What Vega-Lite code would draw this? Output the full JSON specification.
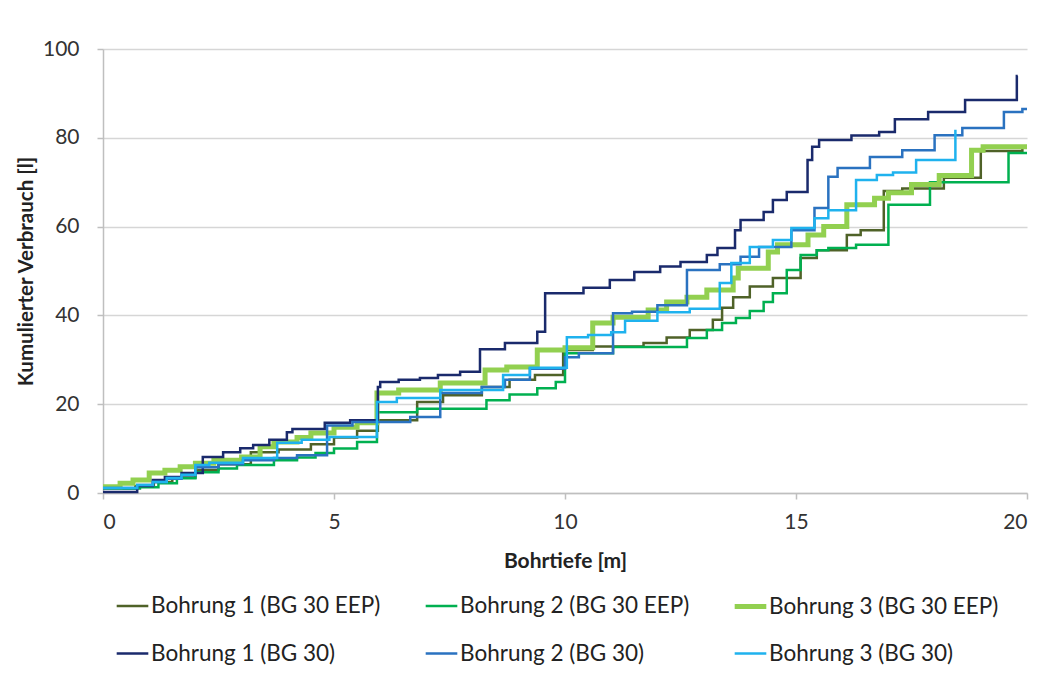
{
  "$schema": "https://vega.github.io/schema/vega-lite/v6.json",
  "width": 924,
  "height": 444,
  "autosize": {"type": "none"},
  "padding": {"left": 103, "top": 49, "right": 14, "bottom": 189},
  "background": "white",
  "config": {"view": {"stroke": null}, "font": "Lato"},
  "datasets": {
    "d": [
      {"s": "Bohrung 1 (BG 30 EEP)", "x": 0, "y": 1.0},
      {"s": "Bohrung 1 (BG 30 EEP)", "x": 0.7, "y": 1.5},
      {"s": "Bohrung 1 (BG 30 EEP)", "x": 1.1, "y": 2.5},
      {"s": "Bohrung 1 (BG 30 EEP)", "x": 1.5, "y": 3.5},
      {"s": "Bohrung 1 (BG 30 EEP)", "x": 2.0, "y": 5.2},
      {"s": "Bohrung 1 (BG 30 EEP)", "x": 2.5, "y": 6.5},
      {"s": "Bohrung 1 (BG 30 EEP)", "x": 3.2, "y": 9.2},
      {"s": "Bohrung 1 (BG 30 EEP)", "x": 3.8, "y": 9.8},
      {"s": "Bohrung 1 (BG 30 EEP)", "x": 4.5, "y": 11.0},
      {"s": "Bohrung 1 (BG 30 EEP)", "x": 5.0, "y": 12.5},
      {"s": "Bohrung 1 (BG 30 EEP)", "x": 5.5, "y": 14.0},
      {"s": "Bohrung 1 (BG 30 EEP)", "x": 5.95, "y": 16.4},
      {"s": "Bohrung 1 (BG 30 EEP)", "x": 6.8, "y": 20.5},
      {"s": "Bohrung 1 (BG 30 EEP)", "x": 7.36, "y": 22.0},
      {"s": "Bohrung 1 (BG 30 EEP)", "x": 8.2, "y": 23.9},
      {"s": "Bohrung 1 (BG 30 EEP)", "x": 8.8, "y": 25.5},
      {"s": "Bohrung 1 (BG 30 EEP)", "x": 9.35, "y": 26.6},
      {"s": "Bohrung 1 (BG 30 EEP)", "x": 9.96, "y": 32.2},
      {"s": "Bohrung 1 (BG 30 EEP)", "x": 10.6, "y": 33.0},
      {"s": "Bohrung 1 (BG 30 EEP)", "x": 11.7, "y": 33.8},
      {"s": "Bohrung 1 (BG 30 EEP)", "x": 12.2, "y": 35.0},
      {"s": "Bohrung 1 (BG 30 EEP)", "x": 12.7, "y": 36.7},
      {"s": "Bohrung 1 (BG 30 EEP)", "x": 13.2, "y": 39.0},
      {"s": "Bohrung 1 (BG 30 EEP)", "x": 13.4, "y": 41.7},
      {"s": "Bohrung 1 (BG 30 EEP)", "x": 13.64, "y": 44.1},
      {"s": "Bohrung 1 (BG 30 EEP)", "x": 14.0, "y": 46.5},
      {"s": "Bohrung 1 (BG 30 EEP)", "x": 14.5, "y": 48.4},
      {"s": "Bohrung 1 (BG 30 EEP)", "x": 15.1, "y": 52.9},
      {"s": "Bohrung 1 (BG 30 EEP)", "x": 15.45, "y": 54.7},
      {"s": "Bohrung 1 (BG 30 EEP)", "x": 16.1, "y": 58.1},
      {"s": "Bohrung 1 (BG 30 EEP)", "x": 16.4, "y": 59.2},
      {"s": "Bohrung 1 (BG 30 EEP)", "x": 16.9, "y": 68.0},
      {"s": "Bohrung 1 (BG 30 EEP)", "x": 17.3, "y": 68.6},
      {"s": "Bohrung 1 (BG 30 EEP)", "x": 18.2, "y": 71.0},
      {"s": "Bohrung 1 (BG 30 EEP)", "x": 19.0, "y": 77.0},
      {"s": "Bohrung 1 (BG 30 EEP)", "x": 19.9, "y": 77.5},

      {"s": "Bohrung 2 (BG 30 EEP)", "x": 0, "y": 1.0},
      {"s": "Bohrung 2 (BG 30 EEP)", "x": 0.8, "y": 1.3},
      {"s": "Bohrung 2 (BG 30 EEP)", "x": 1.2, "y": 2.2},
      {"s": "Bohrung 2 (BG 30 EEP)", "x": 1.6, "y": 3.3},
      {"s": "Bohrung 2 (BG 30 EEP)", "x": 2.0, "y": 4.7},
      {"s": "Bohrung 2 (BG 30 EEP)", "x": 2.5, "y": 5.5},
      {"s": "Bohrung 2 (BG 30 EEP)", "x": 2.9, "y": 6.3},
      {"s": "Bohrung 2 (BG 30 EEP)", "x": 3.7, "y": 7.4},
      {"s": "Bohrung 2 (BG 30 EEP)", "x": 4.2, "y": 8.0},
      {"s": "Bohrung 2 (BG 30 EEP)", "x": 4.6, "y": 9.0},
      {"s": "Bohrung 2 (BG 30 EEP)", "x": 5.0, "y": 10.0},
      {"s": "Bohrung 2 (BG 30 EEP)", "x": 5.5, "y": 11.5},
      {"s": "Bohrung 2 (BG 30 EEP)", "x": 5.93, "y": 18.2},
      {"s": "Bohrung 2 (BG 30 EEP)", "x": 6.8, "y": 19.0},
      {"s": "Bohrung 2 (BG 30 EEP)", "x": 8.3, "y": 20.9},
      {"s": "Bohrung 2 (BG 30 EEP)", "x": 8.8, "y": 22.2},
      {"s": "Bohrung 2 (BG 30 EEP)", "x": 9.4, "y": 23.6},
      {"s": "Bohrung 2 (BG 30 EEP)", "x": 9.8, "y": 25.0},
      {"s": "Bohrung 2 (BG 30 EEP)", "x": 10.0, "y": 31.5},
      {"s": "Bohrung 2 (BG 30 EEP)", "x": 11.04, "y": 32.9},
      {"s": "Bohrung 2 (BG 30 EEP)", "x": 12.64, "y": 34.9},
      {"s": "Bohrung 2 (BG 30 EEP)", "x": 13.07, "y": 36.7},
      {"s": "Bohrung 2 (BG 30 EEP)", "x": 13.4, "y": 38.3},
      {"s": "Bohrung 2 (BG 30 EEP)", "x": 13.7, "y": 39.4},
      {"s": "Bohrung 2 (BG 30 EEP)", "x": 14.0, "y": 41.0},
      {"s": "Bohrung 2 (BG 30 EEP)", "x": 14.3, "y": 43.0},
      {"s": "Bohrung 2 (BG 30 EEP)", "x": 14.5, "y": 45.0},
      {"s": "Bohrung 2 (BG 30 EEP)", "x": 14.8, "y": 50.2},
      {"s": "Bohrung 2 (BG 30 EEP)", "x": 15.1, "y": 53.6},
      {"s": "Bohrung 2 (BG 30 EEP)", "x": 15.45, "y": 54.7},
      {"s": "Bohrung 2 (BG 30 EEP)", "x": 15.7, "y": 55.2},
      {"s": "Bohrung 2 (BG 30 EEP)", "x": 16.3, "y": 55.9},
      {"s": "Bohrung 2 (BG 30 EEP)", "x": 17.0, "y": 64.9},
      {"s": "Bohrung 2 (BG 30 EEP)", "x": 17.9, "y": 70.0},
      {"s": "Bohrung 2 (BG 30 EEP)", "x": 19.6, "y": 76.6},
      {"s": "Bohrung 2 (BG 30 EEP)", "x": 20.0, "y": 76.6},

      {"s": "Bohrung 3 (BG 30 EEP)", "x": 0, "y": 1.4},
      {"s": "Bohrung 3 (BG 30 EEP)", "x": 0.37, "y": 2.2},
      {"s": "Bohrung 3 (BG 30 EEP)", "x": 0.65, "y": 2.9},
      {"s": "Bohrung 3 (BG 30 EEP)", "x": 1.0, "y": 4.5},
      {"s": "Bohrung 3 (BG 30 EEP)", "x": 1.34, "y": 5.1},
      {"s": "Bohrung 3 (BG 30 EEP)", "x": 1.67, "y": 5.9},
      {"s": "Bohrung 3 (BG 30 EEP)", "x": 2.0, "y": 6.7},
      {"s": "Bohrung 3 (BG 30 EEP)", "x": 2.4, "y": 7.4},
      {"s": "Bohrung 3 (BG 30 EEP)", "x": 3.0, "y": 8.1},
      {"s": "Bohrung 3 (BG 30 EEP)", "x": 3.4, "y": 10.4},
      {"s": "Bohrung 3 (BG 30 EEP)", "x": 3.7, "y": 11.5},
      {"s": "Bohrung 3 (BG 30 EEP)", "x": 4.2, "y": 12.5},
      {"s": "Bohrung 3 (BG 30 EEP)", "x": 4.5, "y": 13.5},
      {"s": "Bohrung 3 (BG 30 EEP)", "x": 5.0, "y": 14.8},
      {"s": "Bohrung 3 (BG 30 EEP)", "x": 5.5, "y": 15.8},
      {"s": "Bohrung 3 (BG 30 EEP)", "x": 5.93, "y": 22.5},
      {"s": "Bohrung 3 (BG 30 EEP)", "x": 6.4, "y": 23.2},
      {"s": "Bohrung 3 (BG 30 EEP)", "x": 7.3, "y": 24.8},
      {"s": "Bohrung 3 (BG 30 EEP)", "x": 8.27, "y": 27.7},
      {"s": "Bohrung 3 (BG 30 EEP)", "x": 8.74, "y": 28.4},
      {"s": "Bohrung 3 (BG 30 EEP)", "x": 9.4, "y": 32.2},
      {"s": "Bohrung 3 (BG 30 EEP)", "x": 10.0, "y": 32.7},
      {"s": "Bohrung 3 (BG 30 EEP)", "x": 10.6, "y": 38.3},
      {"s": "Bohrung 3 (BG 30 EEP)", "x": 11.04, "y": 39.6},
      {"s": "Bohrung 3 (BG 30 EEP)", "x": 11.8, "y": 41.2},
      {"s": "Bohrung 3 (BG 30 EEP)", "x": 12.2, "y": 43.0},
      {"s": "Bohrung 3 (BG 30 EEP)", "x": 12.64, "y": 44.1},
      {"s": "Bohrung 3 (BG 30 EEP)", "x": 13.07, "y": 45.7},
      {"s": "Bohrung 3 (BG 30 EEP)", "x": 13.64, "y": 48.4},
      {"s": "Bohrung 3 (BG 30 EEP)", "x": 13.75, "y": 50.6},
      {"s": "Bohrung 3 (BG 30 EEP)", "x": 14.4, "y": 54.3},
      {"s": "Bohrung 3 (BG 30 EEP)", "x": 14.6, "y": 55.9},
      {"s": "Bohrung 3 (BG 30 EEP)", "x": 15.26, "y": 58.1},
      {"s": "Bohrung 3 (BG 30 EEP)", "x": 15.6, "y": 60.0},
      {"s": "Bohrung 3 (BG 30 EEP)", "x": 16.1, "y": 64.9},
      {"s": "Bohrung 3 (BG 30 EEP)", "x": 16.7, "y": 66.4},
      {"s": "Bohrung 3 (BG 30 EEP)", "x": 17.0, "y": 67.6},
      {"s": "Bohrung 3 (BG 30 EEP)", "x": 17.5, "y": 69.5},
      {"s": "Bohrung 3 (BG 30 EEP)", "x": 18.1, "y": 71.5},
      {"s": "Bohrung 3 (BG 30 EEP)", "x": 18.8, "y": 77.2},
      {"s": "Bohrung 3 (BG 30 EEP)", "x": 19.05, "y": 78.0},
      {"s": "Bohrung 3 (BG 30 EEP)", "x": 20.0, "y": 78.0},

      {"s": "Bohrung 1 (BG 30)", "x": 0, "y": 0.2},
      {"s": "Bohrung 1 (BG 30)", "x": 0.74, "y": 1.6},
      {"s": "Bohrung 1 (BG 30)", "x": 1.08, "y": 2.9},
      {"s": "Bohrung 1 (BG 30)", "x": 1.34, "y": 3.6},
      {"s": "Bohrung 1 (BG 30)", "x": 1.7, "y": 4.5},
      {"s": "Bohrung 1 (BG 30)", "x": 2.16, "y": 8.1},
      {"s": "Bohrung 1 (BG 30)", "x": 2.6, "y": 9.2},
      {"s": "Bohrung 1 (BG 30)", "x": 2.97, "y": 10.1},
      {"s": "Bohrung 1 (BG 30)", "x": 3.25, "y": 10.8},
      {"s": "Bohrung 1 (BG 30)", "x": 3.6, "y": 12.0},
      {"s": "Bohrung 1 (BG 30)", "x": 3.98, "y": 13.7},
      {"s": "Bohrung 1 (BG 30)", "x": 4.1, "y": 14.4},
      {"s": "Bohrung 1 (BG 30)", "x": 4.8, "y": 15.8},
      {"s": "Bohrung 1 (BG 30)", "x": 5.35, "y": 16.4},
      {"s": "Bohrung 1 (BG 30)", "x": 5.95, "y": 23.9},
      {"s": "Bohrung 1 (BG 30)", "x": 6.0, "y": 25.0},
      {"s": "Bohrung 1 (BG 30)", "x": 6.4, "y": 25.5},
      {"s": "Bohrung 1 (BG 30)", "x": 6.86, "y": 25.9},
      {"s": "Bohrung 1 (BG 30)", "x": 7.25, "y": 26.6},
      {"s": "Bohrung 1 (BG 30)", "x": 7.73, "y": 27.3},
      {"s": "Bohrung 1 (BG 30)", "x": 8.16, "y": 32.4},
      {"s": "Bohrung 1 (BG 30)", "x": 8.7, "y": 33.8},
      {"s": "Bohrung 1 (BG 30)", "x": 9.4, "y": 36.3},
      {"s": "Bohrung 1 (BG 30)", "x": 9.57, "y": 45.0},
      {"s": "Bohrung 1 (BG 30)", "x": 10.4, "y": 46.2},
      {"s": "Bohrung 1 (BG 30)", "x": 10.97, "y": 48.0},
      {"s": "Bohrung 1 (BG 30)", "x": 11.5, "y": 49.8},
      {"s": "Bohrung 1 (BG 30)", "x": 12.06, "y": 51.0},
      {"s": "Bohrung 1 (BG 30)", "x": 12.5, "y": 52.0},
      {"s": "Bohrung 1 (BG 30)", "x": 13.07, "y": 53.6},
      {"s": "Bohrung 1 (BG 30)", "x": 13.3, "y": 55.2},
      {"s": "Bohrung 1 (BG 30)", "x": 13.68, "y": 59.2},
      {"s": "Bohrung 1 (BG 30)", "x": 13.8, "y": 61.5},
      {"s": "Bohrung 1 (BG 30)", "x": 14.3, "y": 63.3},
      {"s": "Bohrung 1 (BG 30)", "x": 14.5, "y": 66.0},
      {"s": "Bohrung 1 (BG 30)", "x": 14.8, "y": 67.8},
      {"s": "Bohrung 1 (BG 30)", "x": 15.25, "y": 75.0},
      {"s": "Bohrung 1 (BG 30)", "x": 15.35, "y": 78.0},
      {"s": "Bohrung 1 (BG 30)", "x": 15.5, "y": 79.5},
      {"s": "Bohrung 1 (BG 30)", "x": 16.2, "y": 80.5},
      {"s": "Bohrung 1 (BG 30)", "x": 16.8, "y": 81.3},
      {"s": "Bohrung 1 (BG 30)", "x": 17.14, "y": 84.2},
      {"s": "Bohrung 1 (BG 30)", "x": 17.86, "y": 85.8},
      {"s": "Bohrung 1 (BG 30)", "x": 18.66, "y": 88.5},
      {"s": "Bohrung 1 (BG 30)", "x": 19.78, "y": 93.9},
      {"s": "Bohrung 1 (BG 30)", "x": 19.8, "y": 93.9},

      {"s": "Bohrung 2 (BG 30)", "x": 0, "y": 1.1},
      {"s": "Bohrung 2 (BG 30)", "x": 0.74, "y": 1.8},
      {"s": "Bohrung 2 (BG 30)", "x": 1.08, "y": 2.5},
      {"s": "Bohrung 2 (BG 30)", "x": 1.38, "y": 3.2},
      {"s": "Bohrung 2 (BG 30)", "x": 1.7, "y": 4.0},
      {"s": "Bohrung 2 (BG 30)", "x": 2.0, "y": 5.8},
      {"s": "Bohrung 2 (BG 30)", "x": 2.5, "y": 6.5},
      {"s": "Bohrung 2 (BG 30)", "x": 3.03, "y": 7.4},
      {"s": "Bohrung 2 (BG 30)", "x": 3.7, "y": 7.9},
      {"s": "Bohrung 2 (BG 30)", "x": 4.2, "y": 8.5},
      {"s": "Bohrung 2 (BG 30)", "x": 4.85, "y": 15.2},
      {"s": "Bohrung 2 (BG 30)", "x": 5.4, "y": 16.0},
      {"s": "Bohrung 2 (BG 30)", "x": 6.65, "y": 17.1},
      {"s": "Bohrung 2 (BG 30)", "x": 7.3, "y": 22.5},
      {"s": "Bohrung 2 (BG 30)", "x": 8.2, "y": 23.9},
      {"s": "Bohrung 2 (BG 30)", "x": 8.7, "y": 25.5},
      {"s": "Bohrung 2 (BG 30)", "x": 9.24, "y": 28.0},
      {"s": "Bohrung 2 (BG 30)", "x": 10.0, "y": 30.6},
      {"s": "Bohrung 2 (BG 30)", "x": 10.3, "y": 31.5},
      {"s": "Bohrung 2 (BG 30)", "x": 11.04, "y": 40.5},
      {"s": "Bohrung 2 (BG 30)", "x": 11.45, "y": 40.8},
      {"s": "Bohrung 2 (BG 30)", "x": 12.0, "y": 42.3},
      {"s": "Bohrung 2 (BG 30)", "x": 12.64, "y": 50.2},
      {"s": "Bohrung 2 (BG 30)", "x": 13.35, "y": 51.5},
      {"s": "Bohrung 2 (BG 30)", "x": 13.8, "y": 53.2},
      {"s": "Bohrung 2 (BG 30)", "x": 14.2, "y": 55.4},
      {"s": "Bohrung 2 (BG 30)", "x": 14.9, "y": 59.2},
      {"s": "Bohrung 2 (BG 30)", "x": 15.4, "y": 64.2},
      {"s": "Bohrung 2 (BG 30)", "x": 15.7, "y": 71.2},
      {"s": "Bohrung 2 (BG 30)", "x": 15.9, "y": 73.2},
      {"s": "Bohrung 2 (BG 30)", "x": 16.6, "y": 75.7},
      {"s": "Bohrung 2 (BG 30)", "x": 17.3, "y": 77.2},
      {"s": "Bohrung 2 (BG 30)", "x": 18.0, "y": 80.6},
      {"s": "Bohrung 2 (BG 30)", "x": 18.6, "y": 82.2},
      {"s": "Bohrung 2 (BG 30)", "x": 19.5, "y": 85.8},
      {"s": "Bohrung 2 (BG 30)", "x": 19.9, "y": 86.5},
      {"s": "Bohrung 2 (BG 30)", "x": 20.0, "y": 86.5},

      {"s": "Bohrung 3 (BG 30)", "x": 0, "y": 1.1},
      {"s": "Bohrung 3 (BG 30)", "x": 0.74, "y": 1.8},
      {"s": "Bohrung 3 (BG 30)", "x": 1.08, "y": 2.5},
      {"s": "Bohrung 3 (BG 30)", "x": 1.38, "y": 3.4},
      {"s": "Bohrung 3 (BG 30)", "x": 1.7, "y": 4.1},
      {"s": "Bohrung 3 (BG 30)", "x": 2.0, "y": 6.3},
      {"s": "Bohrung 3 (BG 30)", "x": 2.3, "y": 6.8},
      {"s": "Bohrung 3 (BG 30)", "x": 3.03, "y": 7.9},
      {"s": "Bohrung 3 (BG 30)", "x": 3.77, "y": 11.3},
      {"s": "Bohrung 3 (BG 30)", "x": 4.3, "y": 12.0},
      {"s": "Bohrung 3 (BG 30)", "x": 4.9, "y": 12.6},
      {"s": "Bohrung 3 (BG 30)", "x": 5.93, "y": 20.5},
      {"s": "Bohrung 3 (BG 30)", "x": 6.36, "y": 21.4},
      {"s": "Bohrung 3 (BG 30)", "x": 7.3, "y": 23.2},
      {"s": "Bohrung 3 (BG 30)", "x": 8.66, "y": 26.6},
      {"s": "Bohrung 3 (BG 30)", "x": 9.24, "y": 28.2},
      {"s": "Bohrung 3 (BG 30)", "x": 10.04, "y": 35.1},
      {"s": "Bohrung 3 (BG 30)", "x": 10.5, "y": 35.6},
      {"s": "Bohrung 3 (BG 30)", "x": 11.0, "y": 36.2},
      {"s": "Bohrung 3 (BG 30)", "x": 11.3, "y": 38.8},
      {"s": "Bohrung 3 (BG 30)", "x": 12.0, "y": 40.7},
      {"s": "Bohrung 3 (BG 30)", "x": 12.7, "y": 41.5},
      {"s": "Bohrung 3 (BG 30)", "x": 13.35, "y": 47.3},
      {"s": "Bohrung 3 (BG 30)", "x": 13.6, "y": 51.8},
      {"s": "Bohrung 3 (BG 30)", "x": 14.0, "y": 55.4},
      {"s": "Bohrung 3 (BG 30)", "x": 14.5, "y": 57.0},
      {"s": "Bohrung 3 (BG 30)", "x": 14.9, "y": 59.7},
      {"s": "Bohrung 3 (BG 30)", "x": 15.4, "y": 61.9},
      {"s": "Bohrung 3 (BG 30)", "x": 15.7, "y": 63.7},
      {"s": "Bohrung 3 (BG 30)", "x": 16.3, "y": 70.5},
      {"s": "Bohrung 3 (BG 30)", "x": 16.75, "y": 71.6},
      {"s": "Bohrung 3 (BG 30)", "x": 17.1, "y": 72.2},
      {"s": "Bohrung 3 (BG 30)", "x": 17.6, "y": 75.0},
      {"s": "Bohrung 3 (BG 30)", "x": 18.45, "y": 81.8}
    ]
  },
  "data": {"name": "d"},
  "mark": {"type": "line", "interpolate": "step-after", "strokeCap": "butt", "strokeJoin": "miter"},
  "encoding": {
    "x": {
      "field": "x", "type": "quantitative",
      "scale": {"domain": [0, 20], "nice": false, "zero": false},
      "axis": {
        "values": [0, 5, 10, 15, 20], "grid": false,
        "title": "Bohrtiefe [m]", "titleFont": "Lato", "titleFontSize": 21, "titleFontWeight": "bold", "titleColor": "#222222", "titlePadding": 18,
        "labelFont": "Lato", "labelFontSize": 21, "labelColor": "#333333", "labelPadding": 12,
        "domainColor": "#BFBFBF", "domainWidth": 1.5, "tickColor": "#BFBFBF", "tickWidth": 1.5, "tickSize": 6
      }
    },
    "y": {
      "field": "y", "type": "quantitative",
      "scale": {"domain": [0, 100], "nice": false},
      "axis": {
        "values": [0, 20, 40, 60, 80, 100], "grid": true, "gridColor": "#D6D6D6", "gridWidth": 1.5,
        "title": "Kumulierter Verbrauch [l]", "titleFont": "Lato", "titleFontSize": 20.5, "titleFontWeight": "bold", "titleColor": "#222222", "titlePadding": 6,
        "labelFont": "Lato", "labelFontSize": 21, "labelColor": "#333333", "labelPadding": 18,
        "domainColor": "#BFBFBF", "domainWidth": 1.5, "tickColor": "#BFBFBF", "tickWidth": 1.5, "tickSize": 6
      }
    },
    "color": {
      "field": "s", "type": "nominal",
      "scale": {
        "domain": ["Bohrung 1 (BG 30 EEP)", "Bohrung 2 (BG 30 EEP)", "Bohrung 3 (BG 30 EEP)", "Bohrung 1 (BG 30)", "Bohrung 2 (BG 30)", "Bohrung 3 (BG 30)"],
        "range": ["#4F6228", "#00B050", "#92D050", "#1A2A6C", "#2A72C0", "#1FB2EE"]
      },
      "legend": {
        "orient": "none", "legendX": 11, "legendY": 539, "direction": "horizontal", "columns": 3,
        "title": null, "symbolType": "stroke", "symbolSize": 1000, "symbolStrokeWidth": 3,
        "labelFont": "Lato", "labelFontSize": 22.5, "labelColor": "#222222", "labelOffset": 0, "labelLimit": 400,
        "columnPadding": 34, "rowPadding": 18, "gridAlign": "all"
      }
    },
    "strokeWidth": {
      "field": "s", "type": "nominal",
      "scale": {
        "type": "ordinal",
        "domain": ["Bohrung 1 (BG 30 EEP)", "Bohrung 2 (BG 30 EEP)", "Bohrung 3 (BG 30 EEP)", "Bohrung 1 (BG 30)", "Bohrung 2 (BG 30)", "Bohrung 3 (BG 30)"],
        "range": [2.5, 2.5, 5, 2.5, 2.5, 2.5]
      },
      "legend": null
    }
  }
}
